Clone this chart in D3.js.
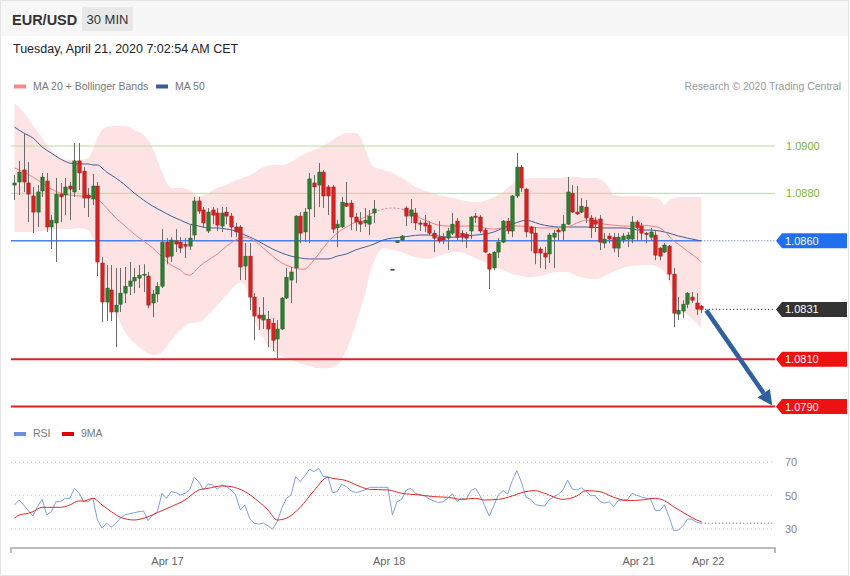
<!DOCTYPE html>
<html><head><meta charset="utf-8">
<script src="https://cdn.jsdelivr.net/npm/d3@7"></script>
<style>body{margin:0;background:#fff;font-family:"Liberation Sans",Arial,sans-serif;}svg{display:block}</style>
</head><body><svg id="c" width="850" height="576"></svg>
<script>
// ---------- DATA ----------
const openP = [1.08835,1.08848,1.08899,1.08844,1.08789,1.08721,1.08810,1.08852,1.08658,1.08675,
1.08797,1.08793,1.08831,1.08806,1.08937,1.08894,1.08793,1.08776,1.08831,1.08506,
1.08341,1.08392,1.08299,1.08332,1.08379,1.08408,1.08430,1.08442,1.08455,1.08451,
1.08337,1.08375,1.08408,1.08594,1.08535,1.08599,1.08594,1.08584,1.08577,1.08624,
1.08768,1.08730,1.08641,1.08730,1.08717,1.08662,1.08721,1.08704,1.08658,1.08658,
1.08493,1.08535,1.08362,1.08286,1.08265,1.08269,1.08252,1.08185,1.08227,1.08358,
1.08434,1.08485,1.08704,1.08637,1.08734,1.08844,1.08835,1.08890,1.08827,1.08827,
1.08654,1.08658,1.08759,1.08759,1.08700,1.08683,1.08675,1.08670,1.08717,null,
null,null,1.08480,1.08592,1.08603,1.08738,1.08704,1.08717,1.08675,1.08675,
1.08666,1.08632,1.08615,1.08615,1.08611,1.08632,1.08683,1.08632,1.08628,1.08641,
1.08704,1.08700,1.08645,1.08544,1.08485,1.08552,1.08594,1.08683,1.08641,1.08789,
1.08911,1.08818,1.08658,1.08632,1.08565,1.08548,1.08544,1.08615,1.08645,1.08641,
1.08670,1.08801,1.08721,1.08721,1.08742,1.08696,1.08687,1.08692,1.08590,1.08620,
1.08615,1.08569,1.08603,1.08607,1.08607,1.08679,1.08662,1.08632,1.08615,1.08624,
1.08569,1.08552,1.08577,1.08459,1.08290,1.08303,1.08332,1.08362,1.08337,1.08324];
const highP = [1.08877,1.08937,1.09055,1.08932,1.08827,1.08835,1.08886,1.08886,1.08708,1.08865,
1.08844,1.08865,1.08848,1.09013,1.09013,1.08911,1.08823,1.08882,1.08848,1.08531,
1.08497,1.08497,1.08485,1.08485,1.08489,1.08510,1.08485,1.08497,1.08501,1.08468,
1.08392,1.08425,1.08649,1.08611,1.08615,1.08649,1.08615,1.08611,1.08670,1.08785,
1.08785,1.08742,1.08738,1.08742,1.08738,1.08742,1.08742,1.08717,1.08675,1.08666,
1.08590,1.08590,1.08379,1.08320,1.08362,1.08303,1.08273,1.08265,1.08362,1.08485,
1.08489,1.08708,1.08721,1.08738,1.08886,1.08877,1.08928,1.08899,1.08835,1.08835,
1.08687,1.08785,1.08848,1.08772,1.08717,1.08721,1.08738,1.08730,1.08772,null,
null,null,1.08480,1.08601,1.08624,1.08746,1.08776,1.08738,1.08687,1.08708,
1.08683,1.08645,1.08683,1.08632,1.08654,1.08717,1.08696,1.08645,1.08637,1.08704,
1.08717,1.08708,1.08654,1.08548,1.08556,1.08611,1.08687,1.08696,1.08793,1.08970,
1.08920,1.08823,1.08662,1.08658,1.08573,1.08573,1.08632,1.08645,1.08654,1.08708,
1.08869,1.08835,1.08831,1.08780,1.08772,1.08708,1.08700,1.08708,1.08632,1.08632,
1.08632,1.08632,1.08632,1.08637,1.08704,1.08687,1.08675,1.08637,1.08654,1.08645,
1.08573,1.08590,1.08582,1.08485,1.08362,1.08349,1.08383,1.08383,1.08379,1.08328];
const lowP = [1.08772,1.08793,1.08806,1.08679,1.08632,1.08658,1.08785,1.08637,1.08565,1.08510,
1.08679,1.08708,1.08687,1.08785,1.08814,1.08738,1.08700,1.08751,1.08451,1.08256,
1.08261,1.08261,1.08151,1.08299,1.08337,1.08370,1.08379,1.08400,1.08383,1.08315,
1.08277,1.08341,1.08400,1.08501,1.08510,1.08552,1.08548,1.08527,1.08561,1.08603,
1.08713,1.08654,1.08632,1.08670,1.08641,1.08637,1.08670,1.08615,1.08615,1.08434,
1.08434,1.08307,1.08180,1.08223,1.08227,1.08151,1.08134,1.08104,1.08223,1.08354,
1.08337,1.08421,1.08590,1.08594,1.08590,1.08700,1.08742,1.08738,1.08708,1.08632,
1.08573,1.08654,1.08742,1.08645,1.08641,1.08637,1.08658,1.08624,1.08675,null,
null,null,1.08480,1.08590,1.08599,1.08662,1.08675,1.08645,1.08641,1.08637,
1.08624,1.08552,1.08590,1.08586,1.08561,1.08624,1.08603,1.08594,1.08569,1.08607,
1.08675,1.08632,1.08548,1.08396,1.08476,1.08527,1.08590,1.08628,1.08615,1.08780,
1.08806,1.08615,1.08556,1.08501,1.08485,1.08480,1.08506,1.08485,1.08603,1.08603,
1.08666,1.08717,1.08708,1.08717,1.08675,1.08611,1.08637,1.08561,1.08569,1.08590,
1.08552,1.08531,1.08590,1.08573,1.08590,1.08603,1.08603,1.08590,1.08603,1.08518,
1.08518,1.08548,1.08434,1.08235,1.08265,1.08273,1.08315,1.08337,1.08286,1.08294];
const closeP = [1.08844,1.08890,1.08848,1.08797,1.08721,1.08806,1.08869,1.08658,1.08687,1.08797,
1.08785,1.08827,1.08818,1.08937,1.08886,1.08780,1.08780,1.08831,1.08510,1.08341,
1.08400,1.08299,1.08328,1.08379,1.08408,1.08430,1.08446,1.08455,1.08459,1.08328,
1.08375,1.08408,1.08594,1.08531,1.08603,1.08586,1.08569,1.08577,1.08611,1.08768,
1.08725,1.08675,1.08721,1.08708,1.08666,1.08717,1.08704,1.08658,1.08637,1.08489,
1.08535,1.08362,1.08282,1.08273,1.08286,1.08227,1.08180,1.08227,1.08358,1.08446,
1.08468,1.08704,1.08632,1.08721,1.08861,1.08827,1.08890,1.08789,1.08789,1.08649,
1.08670,1.08763,1.08746,1.08700,1.08679,1.08670,1.08687,1.08704,1.08734,null,
null,null,1.08480,1.08599,1.08620,1.08704,1.08730,1.08675,1.08670,1.08662,
1.08632,1.08611,1.08599,1.08603,1.08641,1.08670,1.08615,1.08615,1.08611,1.08700,
1.08702,1.08641,1.08552,1.08480,1.08552,1.08594,1.08683,1.08641,1.08789,1.08911,
1.08823,1.08637,1.08632,1.08548,1.08548,1.08531,1.08624,1.08632,1.08637,1.08670,
1.08806,1.08721,1.08713,1.08746,1.08696,1.08654,1.08670,1.08594,1.08607,1.08607,
1.08569,1.08615,1.08620,1.08624,1.08679,1.08654,1.08632,1.08626,1.08637,1.08539,
1.08535,1.08582,1.08459,1.08294,1.08307,1.08332,1.08379,1.08349,1.08311,1.08310];

const bandIdx = [0,2,4,6,8,10,12,14,16,17,18,19,20,22,24,26,28,30,32,34,36,38,40,42,44,46,48,49,50,51,52,54,56,58,60,62,64,66,68,70,72,74,75,76,77,78,80,82,84,86,88,90,92,94,96,98,100,102,104,106,108,110,112,114,116,118,120,122,124,126,127,128,129,130,132,134,136,138,140,141,142,143,144,146,148,149];
const bandUpper = [1.09182,1.09144,1.09089,1.09034,1.08983,1.08949,1.08941,1.08941,1.08949,
1.08983,1.09034,1.09068,1.09080,
1.09085,1.09085,1.09068,1.09046,1.08992,1.08890,1.08823,1.08823,1.08814,1.08789,1.08801,1.08823,1.08835,1.08856,
1.08861,1.08869,1.08877,1.08886,
1.08911,1.08920,1.08920,1.08932,1.08958,1.08975,1.08992,1.09013,1.09038,1.09055,1.09055,
1.09038,1.08992,1.08941,1.08911,
1.08899,1.08886,1.08865,1.08839,1.08818,1.08806,1.08793,1.08785,1.08776,1.08768,1.08763,1.08768,1.08785,1.08806,1.08839,1.08856,1.08865,1.08865,1.08865,1.08865,1.08869,1.08869,1.08865,1.08865,
1.08861,1.08848,1.08823,1.08793,
1.08789,1.08789,1.08789,1.08785,1.08776,
1.08751,1.08772,1.08780,1.08785,
1.08785,1.08785,1.08785];
const bandLower = [1.08637,1.08637,1.08637,1.08641,1.08645,1.08649,1.08649,1.08654,1.08645,
1.08611,1.08561,1.08497,1.08413,
1.08299,1.08214,1.08168,1.08138,1.08117,1.08130,1.08180,1.08223,1.08252,1.08256,1.08286,1.08328,1.08370,1.08413,
1.08425,1.08413,1.08349,1.08273,
1.08189,1.08138,1.08113,1.08096,1.08083,1.08071,1.08062,1.08062,1.08075,1.08138,1.08244,
1.08307,1.08370,1.08455,1.08510,
1.08569,1.08561,1.08552,1.08535,1.08527,1.08523,1.08535,1.08548,1.08552,1.08544,1.08527,1.08510,1.08489,1.08476,1.08459,1.08451,1.08446,1.08451,1.08463,1.08468,1.08468,1.08451,1.08442,1.08438,
1.08442,1.08451,1.08459,1.08468,
1.08485,1.08493,1.08497,1.08497,1.08485,
1.08468,1.08425,1.08370,1.08328,
1.08286,1.08252,1.08231];

const ma20Idx = [0,2,4,6,8,10,12,14,16,18,19,20,22,24,26,28,30,32,34,36,37,38,39,40,42,44,46,48,49,50,52,54,56,58,60,62,63,64,66,68,70,72,74,76,78,80,82,84,86,88,90,92,94,96,98,100,102,104,106,108,110,112,114,116,118,120,122,124,126,128,130,132,134,136,138,140,141,142,143,144,146,148,149];
const ma20Val = [1.08907,1.08890,1.08869,1.08844,1.08818,1.08801,1.08793,1.08789,1.08789,
1.08776,1.08759,1.08738,
1.08696,1.08662,1.08628,1.08599,1.08569,1.08531,1.08497,1.08476,
1.08459,1.08455,1.08468,1.08489,
1.08518,1.08544,1.08577,1.08603,
1.08611,1.08615,
1.08599,1.08569,1.08535,1.08506,1.08489,1.08480,
1.08480,1.08497,
1.08544,1.08594,1.08632,1.08658,1.08679,1.08700,1.08721,1.08734,1.08738,1.08734,1.08717,1.08696,1.08679,1.08666,1.08662,1.08662,1.08662,1.08662,1.08654,1.08649,1.08654,1.08662,1.08662,1.08658,1.08654,1.08654,1.08654,1.08658,1.08675,1.08687,1.08679,1.08670,1.08666,1.08662,1.08662,1.08666,1.08662,1.08654,
1.08641,1.08620,1.08599,1.08586,
1.08556,1.08527,1.08510];

const ma50Idx = [0,2,4,6,8,10,12,14,16,17,18,19,20,22,24,26,28,30,32,34,36,38,40,42,44,46,48,50,52,54,56,58,60,62,64,66,68,70,72,74,76,78,80,82,84,86,88,90,92,94,96,98,100,102,104,106,108,110,111,112,114,116,118,120,124,128,132,136,138,140,142,144,146,149];
const ma50Val = [1.09080,1.09055,1.09034,1.08996,1.08970,1.08945,1.08928,1.08924,1.08924,
1.08920,1.08920,1.08907,1.08890,
1.08865,1.08835,1.08801,1.08772,1.08746,1.08725,1.08704,1.08687,1.08670,1.08662,
1.08654,1.08654,1.08649,1.08641,1.08624,1.08607,1.08586,1.08565,1.08548,1.08535,
1.08527,1.08523,1.08523,1.08523,1.08535,1.08544,1.08561,1.08573,1.08586,1.08603,
1.08611,1.08615,1.08620,1.08624,1.08624,1.08620,1.08615,1.08615,1.08620,1.08624,
1.08628,1.08637,1.08654,1.08670,1.08683,
1.08687,1.08683,
1.08670,1.08662,1.08658,1.08658,
1.08658,1.08654,1.08654,1.08645,
1.08645,1.08641,1.08632,1.08620,1.08611,
1.08599];

const rsiVal = [44.4,47.4,44.4,41,37.8,43.4,47.8,38.4,40.4,46.4,
46.4,48.4,48.4,54.4,51.8,46.4,46.4,48.4,35.4,30.5,
33.5,31.1,33.5,36.5,38.5,39.2,39.8,40.4,40.8,35,
38.4,40.4,51.4,48.4,52.4,51.8,50.4,51.4,53.4,61,
58.4,53.4,57,56.4,53.8,56.4,55.4,53.4,50.4,41.4,
44.4,36.5,33.5,33,33.5,31.9,29.9,34.4,42.5,48.4,
50.4,61.4,58.4,61.8,65.8,64.4,66.4,61.4,61.4,51.8,
52.4,56.8,55.4,53,51.8,52.4,53.4,55,55,55,
55,55,38.4,46.4,47.8,53.4,54.4,51.4,50.4,49.8,
48,46.8,45.9,46.3,48.5,51.2,46.5,48.5,47.5,53,
54.4,50,44,37.8,44,50.5,53,51,59,65,
58,49,47.8,44.6,44.1,43.8,47.5,49.4,50.8,53.4,
59.4,54,53.4,54.7,52.6,50,50,46.5,45.6,46.3,
43.6,47,47.4,47.7,51.5,50.2,49.2,48.5,48,41.2,
41,44.5,37.5,29,29.3,31.7,36,35.8,34,33.5];
const ma9Idx = [0,1,3,4,6,7,10,12,14,15,17,19,21,23,26,29,31,34,37,40,42,45,47,50,53,55,57,59,62,65,68,69,72,75,77,81,84,88,91,94,97,100,102,105,108,110,113,115,119,122,124,127,130,133,136,139,141,143,146,148,149];
const ma9Val = [36.5,38.4,39.4,40.4,43,43,43,44.4,46.8,46.8,48.4,44.4,40.4,37,35.4,37.4,39.8,43.4,47.4,53.4,54.4,55.8,55.4,52.4,46.4,41.4,35.4,36.5,43,53,61,60.4,59,55.4,53.8,53.4,51.4,50.4,49.4,49,47.8,48.4,47.4,47.8,49.8,51.8,53,51.4,47.8,49.8,53,52.4,49,47,47.4,48.4,47,43.4,38.4,35.4,34.4];

const resistLevels = [1.0900, 1.0880];
const pivotLevel = 1.0860;
const supportLevels = [1.0810, 1.0790];
const lastPrice = 1.0831;
const rsiTicks = [70, 50, 30];
const dateLabels = ["Apr 17", "Apr 18", "Apr 21", "Apr 22"];
const dateIdx = [33.1, 81.2, 135.3, 150.4];
const gapStart = 78, gapEnd = 83;

// ---------- DRAW ----------
const svg = d3.select("#c");
const FONT = "'Liberation Sans', Arial, sans-serif";
svg.append("rect").attr("x",0).attr("y",0).attr("width",850).attr("height",576).attr("fill","#fff");
svg.append("rect").attr("x",0).attr("y",0).attr("width",849).attr("height",36).attr("fill","#f7f7f7");
svg.append("rect").attr("x",0.5).attr("y",0.5).attr("width",848).attr("height",575).attr("fill","none").attr("stroke","#e4e4e4");

const x = d3.scaleLinear().domain([-0.75, 165]).range([11, 775]);
const y = d3.scaleLinear().domain([1.0790, 1.0900]).range([406.5, 146]);
const yr = d3.scaleLinear().domain([30, 70]).range([529, 462.3]);
const X0 = 11, X1 = 775;
const lastI = closeP.length - 1;

// header
svg.append("text").attr("x",12).attr("y",24.5).attr("font-family",FONT).attr("font-weight","bold")
  .attr("font-size",14.5).attr("fill","#333").text("EUR/USD");
svg.append("rect").attr("x",82).attr("y",7).attr("width",51).attr("height",24).attr("fill","#e8e8e8");
svg.append("text").attr("x",107.5).attr("y",24).attr("text-anchor","middle").attr("font-family",FONT)
  .attr("font-size",13).attr("fill","#333").text("30 MIN");
svg.append("text").attr("x",13).attr("y",53).attr("font-family",FONT).attr("font-size",12.5)
  .attr("fill","#222").text("Tuesday, April 21, 2020 7:02:54 AM CET");

// legends
function legend(xs, yy, col, label){
  svg.append("rect").attr("x",xs).attr("y",yy-5).attr("width",12).attr("height",4).attr("fill",col);
  svg.append("text").attr("x",xs+19).attr("y",yy).attr("font-family",FONT).attr("font-size",10.5)
    .attr("fill","#777").text(label);
}
legend(14, 89.5, "#f48a8a", "MA 20 + Bollinger Bands");
legend(156, 89.5, "#3a5a9a", "MA 50");
svg.append("text").attr("x",841).attr("y",89.5).attr("text-anchor","end").attr("font-family",FONT)
  .attr("font-size",10.5).attr("fill","#999").text("Research \u00A9 2020 Trading Central");
legend(14, 437, "#6a8fe0", "RSI");
legend(62, 437, "#e00000", "9MA");

// bollinger band
const band = bandIdx.map((d,k)=>({i:d,u:bandUpper[k],l:bandLower[k]}));
svg.append("path").datum(band)
  .attr("d", d3.area().x(d=>x(d.i)).y0(d=>y(d.l)).y1(d=>y(d.u)).curve(d3.curveMonotoneX))
  .attr("fill","#fde3e3");

// horizontal levels
resistLevels.forEach(v=>{
  svg.append("line").attr("x1",X0).attr("x2",X1).attr("y1",y(v)).attr("y2",y(v))
    .attr("stroke","#b7dc9c").attr("stroke-width",1);
  svg.append("text").attr("x",786).attr("y",y(v)+4).attr("font-family",FONT).attr("font-size",11)
    .attr("fill","#7cb342").text(v.toFixed(4));
});
supportLevels.forEach(v=>{
  svg.append("line").attr("x1",X0).attr("x2",X1).attr("y1",y(v)).attr("y2",y(v))
    .attr("stroke","#e31e1e").attr("stroke-width",2);
});
svg.append("line").attr("x1",X0).attr("x2",x(lastI)).attr("y1",y(pivotLevel)).attr("y2",y(pivotLevel))
  .attr("stroke","#4b80ef").attr("stroke-width",1.5);
svg.append("line").attr("x1",x(lastI)).attr("x2",X1).attr("y1",y(pivotLevel)).attr("y2",y(pivotLevel))
  .attr("stroke","#4a6fb0").attr("stroke-width",1.2).attr("stroke-dasharray","1,2");
svg.append("line").attr("x1",x(lastI)+4).attr("x2",X1).attr("y1",y(lastPrice)).attr("y2",y(lastPrice))
  .attr("stroke","#333").attr("stroke-width",1.2).attr("stroke-dasharray","1,2.5");

// MA lines
const ma20 = ma20Idx.map((d,k)=>[d, ma20Val[k]]);
const ma50 = ma50Idx.map((d,k)=>[d, ma50Val[k]]);
const ln = d3.line().x(d=>x(d[0])).y(d=>y(d[1])).curve(d3.curveMonotoneX);
svg.append("path").datum(ma50).attr("d",ln).attr("fill","none").attr("stroke","#3e5f9e").attr("stroke-width",1);
svg.append("path").datum(ma20.filter(d=>d[0]<=gapStart)).attr("d",ln).attr("fill","none").attr("stroke","#f08080").attr("stroke-width",1);
svg.append("path").datum(ma20.filter(d=>d[0]>=gapStart && d[0]<=gapEnd+1)).attr("d",ln).attr("fill","none")
  .attr("stroke","#e07a7a").attr("stroke-width",1).attr("stroke-dasharray","2,2");
svg.append("path").datum(ma20.filter(d=>d[0]>=gapEnd+1)).attr("d",ln).attr("fill","none").attr("stroke","#f08080").attr("stroke-width",1);

// candles
const bw = 3.4;
const cg = svg.append("g");
closeP.forEach((c,i)=>{
  const o = openP[i];
  if (o == null || c == null) return;
  const cx = Math.round(x(i)) + 0.5;
  const up = c > o, flat = c === o;
  const fill = flat ? "#444" : (up ? "#2e7d32" : "#d32323");
  const strk = flat ? "#444" : (up ? "#1f5f23" : "#a81818");
  cg.append("line").attr("x1",cx).attr("x2",cx).attr("y1",y(highP[i])).attr("y2",y(lowP[i]))
    .attr("stroke","#6b6b6b").attr("stroke-width",1);
  const yt = y(Math.max(o,c)), yb = y(Math.min(o,c));
  cg.append("rect").attr("x",cx-bw/2).attr("y",yt).attr("width",bw).attr("height",Math.max(1.2,yb-yt))
    .attr("fill",fill).attr("stroke",strk).attr("stroke-width",0.5);
});

// arrow
const sx = x(lastI)+5, sy = y(lastPrice)+1;
const tx = x(lastI)+71, ty = y(supportLevels[1])-1;
const dx = tx-sx, dy = ty-sy, L = Math.hypot(dx,dy), ux = dx/L, uy = dy/L;
const hl = 15, hw = 7.5;
const bx = tx-ux*hl, by = ty-uy*hl;
svg.append("line").attr("x1",sx).attr("y1",sy).attr("x2",bx).attr("y2",by)
  .attr("stroke","#2f5f9e").attr("stroke-width",4.5);
svg.append("path").attr("d",`M${tx},${ty}L${bx-uy*hw},${by+ux*hw}L${bx+uy*hw},${by-ux*hw}Z`).attr("fill","#2f5f9e");

// right price tags
function tag(v, col){
  const cy = y(v);
  svg.append("path").attr("d",`M776,${cy}L782,${cy-7.5}L847,${cy-7.5}L847,${cy+7.5}L782,${cy+7.5}Z`).attr("fill",col);
  svg.append("text").attr("x",785).attr("y",cy+4).attr("font-family",FONT).attr("font-size",11)
    .attr("fill","#fff").text(v.toFixed(4));
}
tag(pivotLevel, "#1f6fef");
tag(lastPrice, "#333333");
supportLevels.forEach(v=>tag(v, "#ef1010"));

// RSI panel
rsiTicks.forEach(v=>{
  svg.append("line").attr("x1",X0).attr("x2",X1).attr("y1",yr(v)).attr("y2",yr(v))
    .attr("stroke","#c4c4c4").attr("stroke-width",1).attr("stroke-dasharray","1,3");
  svg.append("text").attr("x",785).attr("y",yr(v)+4).attr("font-family",FONT).attr("font-size",11)
    .attr("fill","#888").text(v);
});
const rl = d3.line().x((d,i)=>x(i)).y(d=>yr(d));
svg.append("path").datum(rsiVal).attr("d",rl).attr("fill","none").attr("stroke","#7f9fe2").attr("stroke-width",1);
const ma9 = ma9Idx.map((d,k)=>[d, ma9Val[k]]);
svg.append("path").datum(ma9).attr("d",d3.line().x(d=>x(d[0])).y(d=>yr(d[1])).curve(d3.curveMonotoneX))
  .attr("fill","none").attr("stroke","#e02a2a").attr("stroke-width",1);
svg.append("line").attr("x1",x(lastI)).attr("x2",X1).attr("y1",yr(rsiVal[lastI])).attr("y2",yr(rsiVal[lastI]))
  .attr("stroke","#555").attr("stroke-width",1).attr("stroke-dasharray","1,2.5");

// x axis
const ax = svg.append("g").attr("transform","translate(0,548)");
ax.call(d3.axisBottom(x).tickValues(dateIdx).tickFormat((d,k)=>dateLabels[k]).tickSize(0).tickPadding(9));
ax.select(".domain").remove();
ax.selectAll("text").attr("font-family",FONT).attr("font-size",11).attr("fill","#666");
ax.append("path").attr("d",`M${X0},5V0H${X1}V5`).attr("fill","none").attr("stroke","#bbb").attr("stroke-width",2);
</script></body></html>
